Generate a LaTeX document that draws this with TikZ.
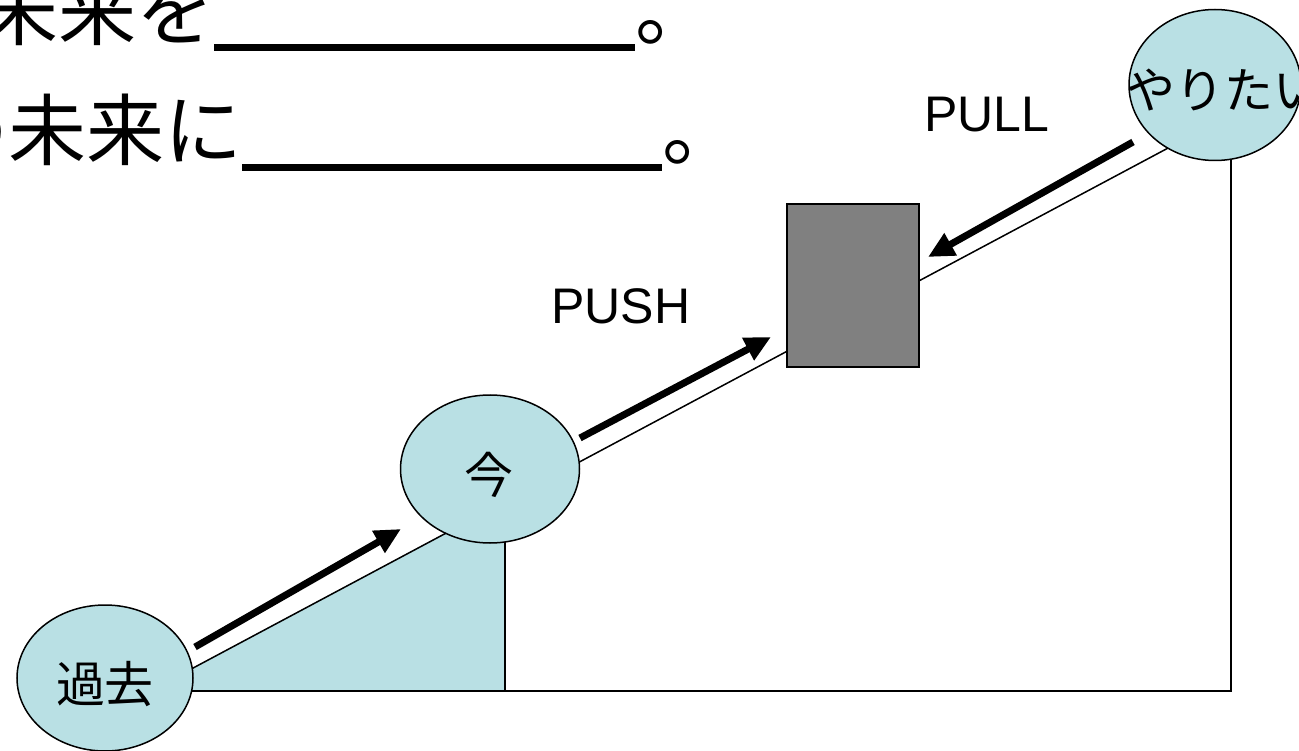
\documentclass[tikz,border=0pt]{standalone}
\usepackage{fontspec}
\setmainfont{Liberation Sans}
\newfontfamily\jpfont{Noto Sans CJK JP}
\usetikzlibrary{arrows.meta,shapes.geometric}
\definecolor{stagecyan}{RGB}{185,224,228}
\definecolor{boxgray}{RGB}{128,128,128}
\newcommand\jpbig{\jpfont\fontsize{78}{78}\selectfont}
\newcommand\jpmid{\jpfont\fontsize{49}{49}\selectfont}
\begin{document}
\begin{tikzpicture}[x=1pt,y=-1pt,
  stage/.style={ellipse, draw, line width=1.5pt, fill=stagecyan, inner sep=0pt},
  stagetext/.style={inner sep=0pt, font=\jpmid},
  thin/.style={line width=1.5pt},
  bigarrow/.style={line width=7pt, -{Triangle[length=26pt,width=24pt]}},
  latin/.style={inner sep=0pt, font=\fontsize{50}{50}\selectfont},
  title/.style={anchor=base west, inner sep=0pt, font=\jpbig}]
\useasboundingbox (0,0) rectangle (1299,751);
\clip (0,0) rectangle (1299,751);
% coordinates
\coordinate (d0) at (150,691);
\coordinate (d1) at (1200,131);
\coordinate (base0) at (105,691);
\coordinate (nowfoot) at (505,691);
\coordinate (base1) at (1231,691);
% filled area under the first step
\fill[stagecyan] (150,691) -- (470,520) -- (505,520) -- (505,691) -- cycle;
% guide lines
\draw[thin] (d0) -- (d1);
\draw[thin] (base0) -- (base1) -- (base1 |- 0,85);
\draw[thin] (nowfoot) -- (nowfoot |- 0,469);
% stages
\node[stage, minimum width=176pt, minimum height=146pt] (past) at (105,678) {};
\node[stage, minimum width=179pt, minimum height=148pt] (now) at (490,469) {};
\node[stage, minimum width=172pt, minimum height=151pt] (want) at (1215,85) {};
\node[draw, line width=1.5pt, fill=boxgray, minimum width=132pt, minimum height=163pt, inner sep=0pt] (box) at (853,285.5) {};
\node[stagetext] (pasttext) at (105,684) {過去};
\node[stagetext] (nowtext) at (489,475) {今};
\node[stagetext] (wanttext) at (1224,90) {やりたい};
% arrows
\coordinate (a1s) at (195,647); \coordinate (a1e) at (401,529);
\coordinate (a2s) at (580,438); \coordinate (a2e) at (771,337);
\coordinate (a3s) at (1133,142); \coordinate (a3e) at (928,257);
\draw[bigarrow] (a1s) -- (a1e);
\draw[bigarrow] (a2s) -- (a2e);
\draw[bigarrow] (a3s) -- (a3e);
% labels
\node[latin] (push) at (621,306) {PUSH};
\node[latin] (pull) at (987,115) {PULL};
% title lines
\node[title] (line1) at (-20,40) {未来を\rule[-11pt]{421pt}{7pt}。};
\node[title] (line2) at (-70,160) {の未来に\rule[-11pt]{420pt}{7pt}。};
\end{tikzpicture}
\end{document}
